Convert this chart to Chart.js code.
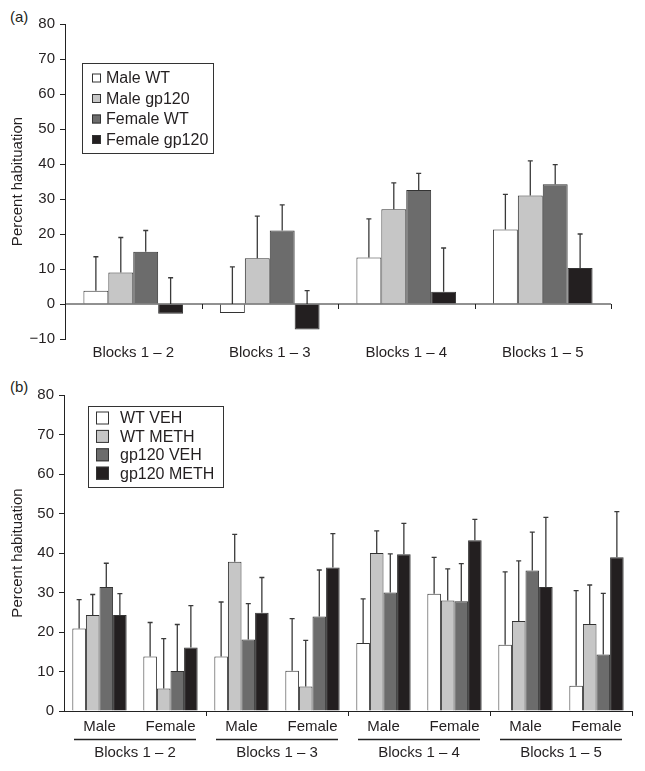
<!DOCTYPE html>
<html>
<head>
<meta charset="utf-8">
<script src="https://cdn.jsdelivr.net/npm/chart.js@4.4.1/dist/chart.umd.min.js"></script>
<style>
  body { margin: 0; background: #fff; }
  #wrap { position: relative; width: 645px; height: 771px; }
  canvas { position: absolute; left: 0; }
  .tag { position: absolute; font: 15px "Liberation Sans", Arial, sans-serif; color: #231f20; }
</style>
</head>
<body>
<div id="wrap">
  <div class="tag" style="left:10px; top:8px;">(a)</div>
  <canvas id="grafA" width="645" height="368" style="top:0"></canvas>
  <div class="tag" style="left:10px; top:378px;">(b)</div>
  <canvas id="grafB" width="645" height="403" style="top:368px"></canvas>
</div>
<script>
// ---- panel (a) ----
const bloques = ['Blocks 1 – 2', 'Blocks 1 – 3', 'Blocks 1 – 4', 'Blocks 1 – 5'];
const maleWT = [3.8, -2.6, 13.3, 21.3];
const maleWTsem = [9.7, 13.2, 11.0, 10.0];
const maleGp = [9.0, 13.1, 27.1, 31.0];
const maleGpSem = [10.0, 12.0, 7.5, 9.9];
const femWT = [14.9, 21.0, 32.6, 34.2];
const femWTsem = [6.1, 7.3, 4.7, 5.6];
const femGp = [-2.8, -7.3, 3.5, 10.3];
const femGpSem = [10.3, 11.1, 12.5, 9.7];

// ---- panel (b) ----
const sexos = ['Male', 'Female', 'Male', 'Female', 'Male', 'Female', 'Male', 'Female'];
const wtVeh = [20.9, 13.8, 13.8, 10.2, 17.2, 29.7, 16.8, 6.4];
const wtVehSem = [7.3, 8.6, 13.8, 13.2, 11.2, 9.2, 18.4, 24.1];
const wtMeth = [24.3, 5.7, 37.8, 6.2, 40.0, 28.0, 22.8, 22.0];
const wtMethSem = [5.2, 12.6, 6.9, 11.7, 5.6, 8.0, 15.2, 9.9];
const gpVeh = [31.4, 10.1, 18.1, 23.9, 30.0, 27.8, 35.6, 14.3];
const gpVehSem = [6.0, 11.8, 9.1, 11.8, 9.8, 9.5, 9.7, 15.5];
const gpMeth = [24.3, 16.1, 24.9, 36.3, 39.7, 43.2, 31.4, 38.9];
const gpMethSem = [5.4, 10.6, 8.9, 8.6, 7.8, 5.3, 17.6, 11.6];

const colores = ['#ffffff', '#c6c6c6', '#6c6c6c', '#231f20'];
const tinta = '#231f20';
const fuente = { family: '"Liberation Sans", Arial, sans-serif', size: 15 };

// barras de error hacia arriba
const errorBars = {
  id: 'errorBars',
  afterDatasetsDraw(chart) {
    const ctx = chart.ctx;
    const y = chart.scales.y;
    ctx.save();
    ctx.strokeStyle = '#3a3a3a';
    ctx.lineWidth = 1.3;
    chart.data.datasets.forEach((ds, i) => {
      chart.getDatasetMeta(i).data.forEach((bar, j) => {
        const v = ds.data[j];
        const y0 = y.getPixelForValue(Math.max(v, 0));
        const y1 = y.getPixelForValue(v + ds.sem[j]);
        ctx.beginPath();
        ctx.moveTo(bar.x, y0);
        ctx.lineTo(bar.x, y1);
        ctx.moveTo(bar.x - 2.5, y1);
        ctx.lineTo(bar.x + 2.5, y1);
        ctx.stroke();
      });
    });
    ctx.restore();
  }
};

// marcas del eje x, linea del cero, leyenda y etiquetas de grupo
const extras = {
  id: 'extras',
  afterDatasetsDraw(chart, args, opts) {
    const ctx = chart.ctx;
    const x = chart.scales.x;
    const y = chart.scales.y;
    const area = chart.chartArea;
    const y0 = y.getPixelForValue(0);
    const n = chart.data.labels.length;
    ctx.save();
    ctx.strokeStyle = '#222';
    ctx.lineWidth = 1;
    if (opts.zeroLine) {
      ctx.beginPath();
      ctx.moveTo(area.left, y0);
      ctx.lineTo(area.right, y0);
      ctx.stroke();
    }
    const limite = k => k >= n ? area.right : (x.getPixelForValue(k - 1) + x.getPixelForValue(k)) / 2;
    ctx.beginPath();
    for (let k = opts.every; k <= n; k += opts.every) {
      const px = Math.round(limite(k)) + 0.5;
      ctx.moveTo(px, y0);
      ctx.lineTo(px, y0 + 5);
    }
    ctx.stroke();

    if (opts.grupos) {
      ctx.fillStyle = tinta;
      ctx.font = '15px "Liberation Sans", Arial, sans-serif';
      ctx.textAlign = 'center';
      ctx.textBaseline = 'middle';
      ctx.lineWidth = 1.3;
      opts.grupos.forEach((g, i) => {
        const l = i === 0 ? area.left : limite(2 * i);
        const r = limite(2 * i + 2);
        ctx.beginPath();
        ctx.moveTo(l + 10, area.bottom + 28.5);
        ctx.lineTo(r - 10, area.bottom + 28.5);
        ctx.stroke();
        ctx.fillText(g, (l + r) / 2, area.bottom + 42);
      });
    }

    // leyenda con recuadro
    const L = opts.leyenda;
    ctx.lineWidth = 1;
    ctx.strokeStyle = '#333';
    ctx.strokeRect(L.x + 0.5, L.y + 0.5, L.w, L.h);
    ctx.font = '16px "Liberation Sans", Arial, sans-serif';
    ctx.textAlign = 'left';
    ctx.textBaseline = 'middle';
    chart.data.datasets.forEach((ds, i) => {
      const cy = L.fila0 + i * L.paso;
      ctx.fillStyle = ds.backgroundColor;
      ctx.fillRect(L.cx, cy - L.lado / 2, L.lado, L.lado);
      ctx.strokeRect(L.cx + 0.5, cy - L.lado / 2 + 0.5, L.lado - 1, L.lado - 1);
      ctx.fillStyle = tinta;
      ctx.fillText(ds.label, L.tx, cy + 1);
    });
    ctx.restore();
  }
};

function serie(label, data, sem, color) {
  return {
    label: label, data: data, sem: sem,
    backgroundColor: color, borderColor: '#333', borderWidth: 1,
    borderSkipped: 'start'
  };
}

function opciones(cfg) {
  return {
    responsive: false,
    animation: false,
    layout: { padding: { left: 0, right: cfg.derecha, top: cfg.arriba, bottom: 0 } },
    plugins: {
      legend: { display: false },
      tooltip: { enabled: false },
      extras: cfg.extras
    },
    scales: {
      x: {
        offset: true,
        grid: { display: false, drawTicks: false },
        border: { display: cfg.bordeX, color: '#222', width: 1 },
        ticks: { font: fuente, color: tinta, padding: cfg.padX, maxRotation: 0, autoSkip: false },
        afterFit(s) { s.height = cfg.altoX; }
      },
      y: {
        min: cfg.min, max: 80,
        ticks: {
          stepSize: 10, font: fuente, color: tinta, padding: 5,
          callback: v => String(v).replace('-', '\u2212')
        },
        grid: { drawOnChartArea: false, tickLength: 5, color: '#222' },
        border: { color: '#222', width: 1 },
        title: { display: true, text: 'Percent habituation', font: fuente, color: tinta, padding: { top: 9, bottom: 0 } },
        afterFit(s) { s.width = cfg.anchoY; }
      }
    }
  };
}

new Chart(document.getElementById('grafA').getContext('2d'), {
  type: 'bar',
  data: {
    labels: bloques,
    datasets: [
      serie('Male WT', maleWT, maleWTsem, colores[0]),
      serie('Male gp120', maleGp, maleGpSem, colores[1]),
      serie('Female WT', femWT, femWTsem, colores[2]),
      serie('Female gp120', femGp, femGpSem, colores[3])
    ].map(d => Object.assign(d, { categoryPercentage: 0.73, barPercentage: 1 }))
  },
  options: opciones({
    derecha: 34, arriba: 24, min: -10, bordeX: false, padX: 5, altoX: 29, anchoY: 65,
    extras: { zeroLine: true, every: 1, leyenda: { x: 82, y: 63, w: 131, h: 90, fila0: 78, paso: 20.5, cx: 92, lado: 9, tx: 106 } }
  }),
  plugins: [errorBars, extras]
});

new Chart(document.getElementById('grafB').getContext('2d'), {
  type: 'bar',
  data: {
    labels: sexos,
    datasets: [
      serie('WT VEH', wtVeh, wtVehSem, colores[0]),
      serie('WT METH', wtMeth, wtMethSem, colores[1]),
      serie('gp120 VEH', gpVeh, gpVehSem, colores[2]),
      serie('gp120 METH', gpMeth, gpMethSem, colores[3])
    ].map(d => Object.assign(d, { categoryPercentage: 0.765, barPercentage: 1 }))
  },
  options: opciones({
    derecha: 13, arriba: 27, min: 0, bordeX: true, padX: 7, altoX: 60, anchoY: 64,
    extras: { zeroLine: false, every: 2, grupos: bloques, leyenda: { x: 88, y: 38, w: 135, h: 81, fila0: 50, paso: 18.4, cx: 96, lado: 13, tx: 120 } }
  }),
  plugins: [errorBars, extras]
});
</script>
</body>
</html>
